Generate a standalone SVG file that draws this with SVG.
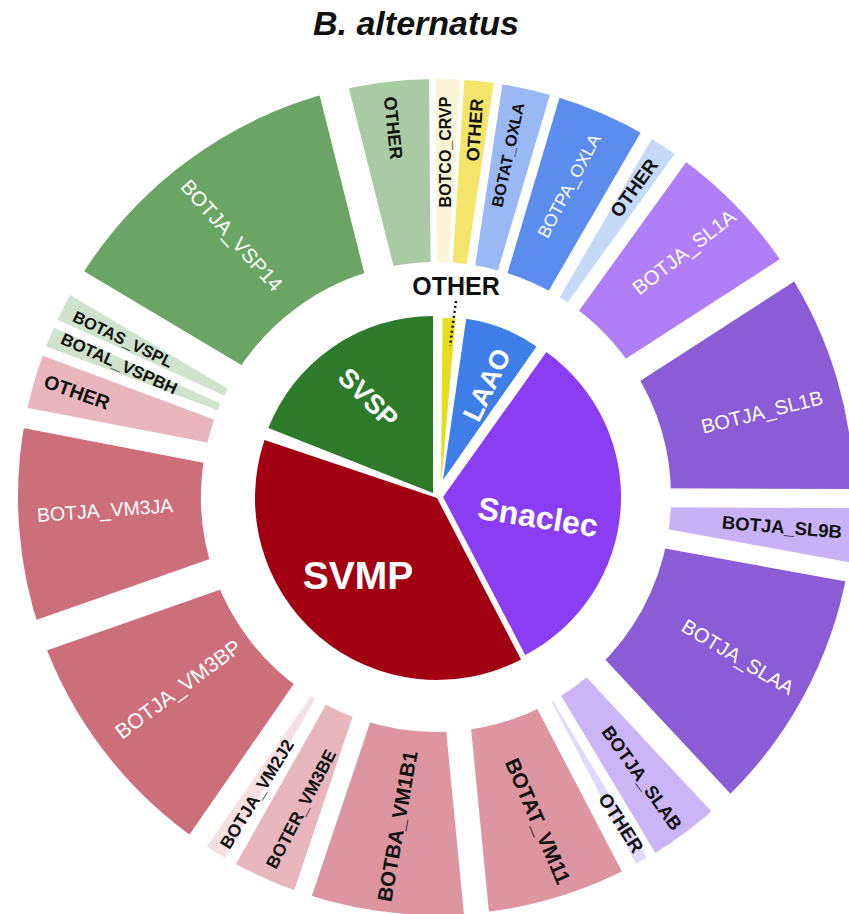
<svg xmlns="http://www.w3.org/2000/svg" width="849" height="914" viewBox="0 0 849 914">
<style>
text{font-family:"Liberation Sans",Arial,sans-serif;text-anchor:middle;dominant-baseline:central}
.seg{fill:none;stroke-width:183}
.b{font-weight:bold;fill:#111}
.w{fill:#fff}
.pl{font-weight:bold;fill:#fff}
</style>
<defs>
<mask id="gaps" maskUnits="userSpaceOnUse" x="0" y="0" width="849" height="914">
<rect x="0" y="0" width="849" height="914" fill="#fff"/>
<g stroke="#000">
<line x1="436" y1="282" x2="436" y2="60" stroke-width="6.7" transform="rotate(359.5 436 497)"/>
<line x1="436" y1="282" x2="436" y2="60" stroke-width="4" transform="rotate(3.6 436 497)"/>
<line x1="436" y1="282" x2="436" y2="60" stroke-width="8.7" transform="rotate(8.55 436 497)"/>
<line x1="436" y1="282" x2="436" y2="60" stroke-width="10" transform="rotate(16.5 436 497)"/>
<line x1="436" y1="282" x2="436" y2="60" stroke-width="12.8" transform="rotate(30.2 436 497)"/>
<line x1="436" y1="282" x2="436" y2="60" stroke-width="14" transform="rotate(35.8 436 497)"/>
<line x1="436" y1="282" x2="436" y2="60" stroke-width="26.5" transform="rotate(57.15 436 497)"/>
<line x1="436" y1="282" x2="436" y2="60" stroke-width="19" transform="rotate(90.2 436 497)"/>
<line x1="436" y1="282" x2="436" y2="60" stroke-width="19.5" transform="rotate(100.3 436 497)"/>
<line x1="436" y1="282" x2="436" y2="60" stroke-width="26" transform="rotate(137 436 497)"/>
<line x1="436" y1="282" x2="436" y2="60" stroke-width="9.5" transform="rotate(149 436 497)"/>
<line x1="436" y1="282" x2="436" y2="60" stroke-width="16" transform="rotate(152.5 436 497)"/>
<line x1="436" y1="282" x2="436" y2="60" stroke-width="25" transform="rotate(174.45 436 497)"/>
<line x1="436" y1="282" x2="436" y2="60" stroke-width="18.4" transform="rotate(198.55 436 497)"/>
<line x1="436" y1="282" x2="436" y2="60" stroke-width="12.5" transform="rotate(209.45 436 497)"/>
<line x1="436" y1="282" x2="436" y2="60" stroke-width="21" transform="rotate(214.7 436 497)"/>
<line x1="436" y1="282" x2="436" y2="60" stroke-width="32.4" transform="rotate(250.7 436 497)"/>
<line x1="436" y1="282" x2="436" y2="60" stroke-width="20.5" transform="rotate(280.9 436 497)"/>
<line x1="436" y1="282" x2="436" y2="60" stroke-width="10" transform="rotate(290.45 436 497)"/>
<line x1="436" y1="282" x2="436" y2="60" stroke-width="9" transform="rotate(294.5 436 497)"/>
<line x1="436" y1="282" x2="436" y2="60" stroke-width="27.5" transform="rotate(300.8 436 497)"/>
<line x1="436" y1="282" x2="436" y2="60" stroke-width="30" transform="rotate(345.9 436 497)"/>
</g>
</mask>
</defs>
<rect x="0" y="0" width="849" height="914" fill="#fff"/>
<text id="title" x="416" y="23" style="font-weight:bold;font-style:italic;font-size:34px;fill:#111">B. alternatus</text>

<g id="inner-ring">
<g id="SVSP"><path d="M433,493 L268.3,428.1 A177,177 0 0 1 433,316 Z" fill="#2e7a2b"/><text class="pl" x="368" y="398" font-size="27" transform="rotate(45 368 398)">SVSP</text></g>
<g id="OTHER-inner"><path d="M441,485 L442.5,318 A167,167 0 0 1 455.6,318.6 Z" fill="#e8dc1c"/><text x="456" y="286" style="font-weight:bold;font-size:25px;fill:#111">OTHER</text></g>
<g id="LAAO"><path d="M443,480 L466.2,318.7 A163,163 0 0 1 536.5,346.5 Z" fill="#3e7ee8"/><text class="pl" x="487" y="385" font-size="27" transform="rotate(-64.5 487 385)">LAAO</text></g>
<g id="Snaclec"><path d="M443,497 L546.4,352.1 A178,178 0 0 1 525.2,654.9 Z" fill="#8a3df3"/><text class="pl" x="538" y="517" font-size="32" transform="rotate(9 538 517)">Snaclec</text></g>
<g id="SVMP"><path d="M437,498 L521,659.4 A182,182 0 0 1 264.5,439.9 Z" fill="#a20012"/><text class="pl" x="358" y="575" font-size="39">SVMP</text></g>
</g>

<g id="outer-ring">
<g id="BOTCO_CRVP"><g mask="url(#gaps)"><circle class="seg" cx="436" cy="497" r="326.5" pathLength="360" stroke-dasharray="4.1 400" transform="rotate(-90.5 436 497)" stroke="#faf5d6"/></g><text class="b" x="445" y="152" font-size="16" transform="rotate(-90 445 152)">BOTCO_CRVP</text></g>
<g id="OTHER-LAAO-yellow"><g mask="url(#gaps)"><circle class="seg" cx="436" cy="497" r="326.5" pathLength="360" stroke-dasharray="4.95 400" transform="rotate(-86.4 436 497)" stroke="#f4e56a"/></g><text class="b" x="475" y="130" font-size="18" transform="rotate(-86 475 130)">OTHER</text></g>
<g id="BOTAT_OXLA"><g mask="url(#gaps)"><circle class="seg" cx="436" cy="497" r="326.5" pathLength="360" stroke-dasharray="7.95 400" transform="rotate(-81.45 436 497)" stroke="#9ab8f3"/></g><text class="b" x="508" y="155" font-size="16" transform="rotate(-78 508 155)">BOTAT_OXLA</text></g>
<g id="BOTPA_OXLA"><g mask="url(#gaps)"><circle class="seg" cx="436" cy="497" r="326.5" pathLength="360" stroke-dasharray="13.7 400" transform="rotate(-73.5 436 497)" stroke="#5b8def"/></g><text class="w" x="569" y="186" font-size="17.5" transform="rotate(-62 569 186)">BOTPA_OXLA</text></g>
<g id="OTHER-LAAO-blue"><g mask="url(#gaps)"><circle class="seg" cx="436" cy="497" r="326.5" pathLength="360" stroke-dasharray="5.6 400" transform="rotate(-59.8 436 497)" stroke="#c6d9f7"/></g><text class="b" x="634" y="188" font-size="19" transform="rotate(-54 634 188)">OTHER</text></g>
<g id="BOTJA_SL1A"><g mask="url(#gaps)"><circle class="seg" cx="436" cy="497" r="326.5" pathLength="360" stroke-dasharray="21.35 400" transform="rotate(-54.2 436 497)" stroke="#b07ef6"/></g><text class="w" x="684" y="252" font-size="20" transform="rotate(-38 684 252)">BOTJA_SL1A</text></g>
<g id="BOTJA_SL1B"><g mask="url(#gaps)"><circle class="seg" cx="436" cy="497" r="326.5" pathLength="360" stroke-dasharray="33.05 400" transform="rotate(-32.85 436 497)" stroke="#8a5cd6"/></g><text class="w" x="762" y="412" font-size="20" transform="rotate(-14 762 412)">BOTJA_SL1B</text></g>
<g id="BOTJA_SL9B"><g mask="url(#gaps)"><circle class="seg" cx="436" cy="497" r="326.5" pathLength="360" stroke-dasharray="10.1 400" transform="rotate(0.2 436 497)" stroke="#c8b1f6"/></g><text class="b" x="782" y="527" font-size="18.5" transform="rotate(4.7 782 527)">BOTJA_SL9B</text></g>
<g id="BOTJA_SLAA"><g mask="url(#gaps)"><circle class="seg" cx="436" cy="497" r="326.5" pathLength="360" stroke-dasharray="36.7 400" transform="rotate(10.3 436 497)" stroke="#8a5cd6"/></g><text class="w" x="738" y="657" font-size="20" transform="rotate(31 738 657)">BOTJA_SLAA</text></g>
<g id="BOTJA_SLAB"><g mask="url(#gaps)"><circle class="seg" cx="436" cy="497" r="326.5" pathLength="360" stroke-dasharray="12 400" transform="rotate(47 436 497)" stroke="#cbb5f7"/></g><text class="b" x="642" y="778" font-size="18.5" transform="rotate(54.4 642 778)">BOTJA_SLAB</text></g>
<g id="OTHER-Snaclec"><g mask="url(#gaps)"><circle class="seg" cx="436" cy="497" r="326.5" pathLength="360" stroke-dasharray="3.5 400" transform="rotate(59 436 497)" stroke="#e1d9fb"/></g><text class="b" x="621" y="823" font-size="19" transform="rotate(57.4 621 823)">OTHER</text></g>
<g id="BOTAT_VM11"><g mask="url(#gaps)"><circle class="seg" cx="436" cy="497" r="326.5" pathLength="360" stroke-dasharray="21.95 400" transform="rotate(62.5 436 497)" stroke="#dd95a0"/></g><text class="b" x="538" y="821" font-size="21" transform="rotate(66.7 538 821)">BOTAT_VM11</text></g>
<g id="BOTBA_VM1B1"><g mask="url(#gaps)"><circle class="seg" cx="436" cy="497" r="326.5" pathLength="360" stroke-dasharray="24.1 400" transform="rotate(84.45 436 497)" stroke="#dd95a0"/></g><text class="b" x="397" y="826" font-size="20.5" transform="rotate(-80 397 826)">BOTBA_VM1B1</text></g>
<g id="BOTER_VM3BE"><g mask="url(#gaps)"><circle class="seg" cx="436" cy="497" r="326.5" pathLength="360" stroke-dasharray="10.9 400" transform="rotate(108.55 436 497)" stroke="#e8b6bd"/></g><text class="b" x="301" y="809" font-size="17.5" transform="rotate(-62.5 301 809)">BOTER_VM3BE</text></g>
<g id="BOTJA_VM2J2"><g mask="url(#gaps)"><circle class="seg" cx="436" cy="497" r="326.5" pathLength="360" stroke-dasharray="5.25 400" transform="rotate(119.45 436 497)" stroke="#f5e0e3"/></g><text class="b" x="257" y="794" font-size="17.5" transform="rotate(-58.4 257 794)">BOTJA_VM2J2</text></g>
<g id="BOTJA_VM3BP"><g mask="url(#gaps)"><circle class="seg" cx="436" cy="497" r="326.5" pathLength="360" stroke-dasharray="36 400" transform="rotate(124.7 436 497)" stroke="#cd6e7b"/></g><text class="w" x="178" y="689" font-size="21" transform="rotate(-36.6 178 689)">BOTJA_VM3BP</text></g>
<g id="BOTJA_VM3JA"><g mask="url(#gaps)"><circle class="seg" cx="436" cy="497" r="326.5" pathLength="360" stroke-dasharray="30.2 400" transform="rotate(160.7 436 497)" stroke="#cd6e7b"/></g><text class="w" x="105" y="510" font-size="19.5" transform="rotate(-4.2 105 510)">BOTJA_VM3JA</text></g>
<g id="OTHER-SVMP"><g mask="url(#gaps)"><circle class="seg" cx="436" cy="497" r="326.5" pathLength="360" stroke-dasharray="9.55 400" transform="rotate(190.9 436 497)" stroke="#e9b6bd"/></g><text class="b" x="77" y="392" font-size="19.5" transform="rotate(19.7 77 392)">OTHER</text></g>
<g id="BOTAL_VSPBH"><g mask="url(#gaps)"><circle class="seg" cx="436" cy="497" r="326.5" pathLength="360" stroke-dasharray="4.05 400" transform="rotate(200.45 436 497)" stroke="#cfe3cc"/></g><text class="b" x="119" y="364" font-size="17" transform="rotate(24.2 119 364)">BOTAL_VSPBH</text></g>
<g id="BOTAS_VSPL"><g mask="url(#gaps)"><circle class="seg" cx="436" cy="497" r="326.5" pathLength="360" stroke-dasharray="6.3 400" transform="rotate(204.5 436 497)" stroke="#cfe3cc"/></g><text class="b" x="123" y="339" font-size="16.5" transform="rotate(25.8 123 339)">BOTAS_VSPL</text></g>
<g id="BOTJA_VSP14"><g mask="url(#gaps)"><circle class="seg" cx="436" cy="497" r="326.5" pathLength="360" stroke-dasharray="45.1 400" transform="rotate(210.8 436 497)" stroke="#6ba565"/></g><text class="w" x="232" y="235" font-size="20.5" transform="rotate(48.3 232 235)">BOTJA_VSP14</text></g>
<g id="OTHER-SVSP"><g mask="url(#gaps)"><circle class="seg" cx="436" cy="497" r="326.5" pathLength="360" stroke-dasharray="13.6 400" transform="rotate(255.9 436 497)" stroke="#a9cba3"/></g><text class="b" x="393" y="128" font-size="18" transform="rotate(84 393 128)">OTHER</text></g>
</g>

<g id="connectors">
<line x1="456" y1="301" x2="450" y2="346" stroke="#111" stroke-width="2.5" stroke-dasharray="2 3"/>
</g>
</svg>
